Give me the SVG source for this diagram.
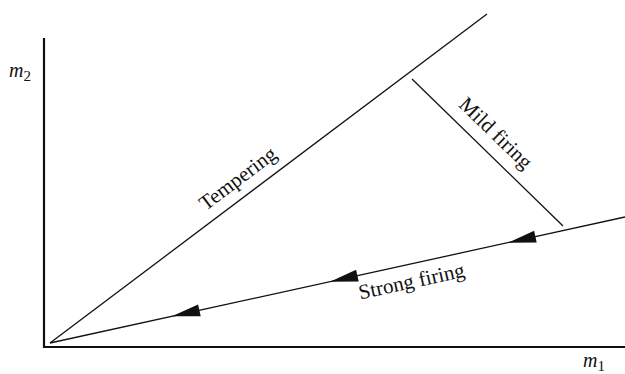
<svg xmlns="http://www.w3.org/2000/svg" width="625" height="374" viewBox="0 0 625 374">
<style>
.axis{stroke:#111;stroke-width:2.2;fill:none}
.ln{stroke:#111;stroke-width:1.3;fill:none}
.ah{fill:#111;stroke:none}
.lbl{font-family:"Liberation Serif","Times New Roman",serif;font-size:21px;fill:#111}
.var{font-family:"Liberation Serif","Times New Roman",serif;font-size:20px;font-style:italic;fill:#111}
.sub{font-family:"Liberation Serif","Times New Roman",serif;font-size:15px;fill:#111}
</style>
<rect width="625" height="374" fill="#fff"/>
<g id="axes">
<path class="axis" d="M44,38 V347 H625"/>
<text class="var" x="9" y="77">m<tspan class="sub" dy="4" font-style="normal">2</tspan></text>
<text class="var" x="583" y="367">m<tspan class="sub" dy="4" font-style="normal">1</tspan></text>
</g>
<g id="connectors">
<line id="tempering-line" class="ln" x1="50" y1="343" x2="487" y2="14"/>
<line id="strong-line" class="ln" x1="50" y1="343" x2="625" y2="217"/>
<line id="mild-line" class="ln" x1="412" y1="79" x2="563" y2="226"/>
<polygon class="ah" points="172,316.3 200.7,316.2 198.1,304.4"/>
<polygon class="ah" points="330,281.7 358.7,281.6 356.1,269.8"/>
<polygon class="ah" points="508,242.7 536.7,242.6 534.1,230.8"/>
</g>
<g id="tempering">
<text class="lbl" text-anchor="middle" transform="translate(242,184) rotate(-37)">Tempering</text>
</g>
<g id="strong-firing">
<text class="lbl" text-anchor="middle" transform="translate(413,288) rotate(-12.4)">Strong firing</text>
</g>
<g id="mild-firing">
<text class="lbl" text-anchor="middle" transform="translate(491,138) rotate(44)">Mild firing</text>
</g>
</svg>
